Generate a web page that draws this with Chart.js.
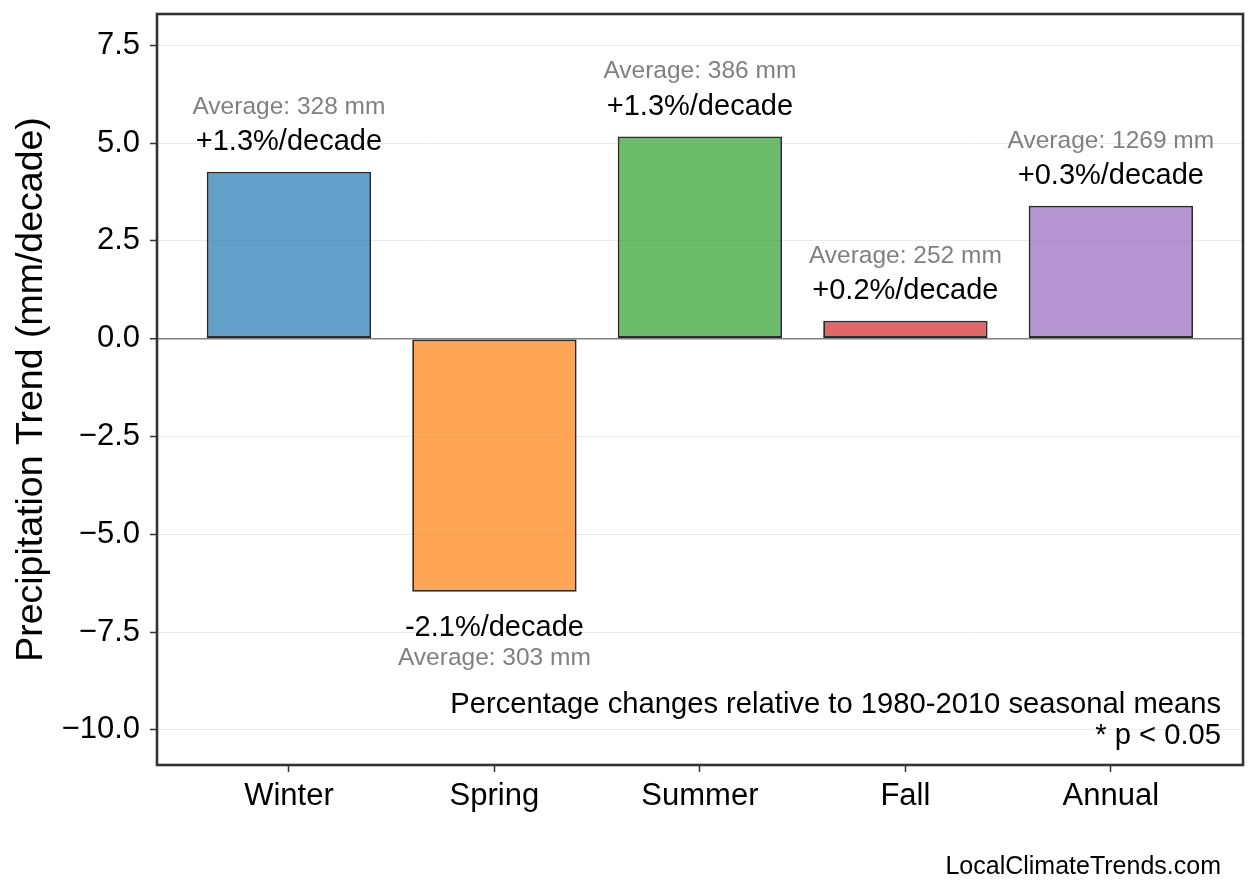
<!DOCTYPE html>
<html>
<head>
<meta charset="utf-8">
<script src="https://cdn.jsdelivr.net/npm/chart.js@4/dist/chart.umd.min.js"></script>
<style>
  body { margin: 0; background: #fff; }
  canvas { display: block; }
</style>
</head>
<body>
<canvas id="chart" width="1258" height="893"></canvas>
<script>
// values
const seasons = ["Winter", "Spring", "Summer", "Fall", "Annual"];
const trends = [4.27, -6.47, 5.17, 0.46, 3.40];
const pctLabels = ["+1.3%/decade", "-2.1%/decade", "+1.3%/decade", "+0.2%/decade", "+0.3%/decade"];
const averages = [328, 303, 386, 252, 1269];
const yTicks = [-10, -7.5, -5, -2.5, 0, 2.5, 5, 7.5];
const barColors = [
    "rgba(31, 119, 180, 0.7)",
    "rgba(255, 127, 14, 0.7)",
    "rgba(44, 160, 44, 0.7)",
    "rgba(214, 39, 40, 0.7)",
    "rgba(148, 103, 189, 0.7)"
];

const FONT = "'Liberation Sans', Arial, Helvetica, sans-serif";

const annotate = {
    id: "annotate",
    afterDatasetsDraw(chart) {
        const ctx = chart.ctx;
        const xs = chart.scales.x, ys = chart.scales.y;
        ctx.save();
        ctx.textAlign = "center";
        ctx.textBaseline = "alphabetic";
        trends.forEach((v, i) => {
            const x = xs.getPixelForValue(i);
            const y = ys.getPixelForValue(v);
            let pctY, avgY;
            if (v >= 0) {
                pctY = y - 21.6;
                avgY = y - 58;
            } else {
                pctY = y + 44.7;
                avgY = y + 73;
            }
            ctx.fillStyle = "#000";
            ctx.font = "29px " + FONT;
            ctx.fillText(pctLabels[i], x, pctY);
            ctx.fillStyle = "#808080";
            ctx.font = "24.5px " + FONT;
            ctx.fillText("Average: " + averages[i] + " mm", x, avgY);
        });
        ctx.restore();
    },
    afterDraw(chart) {
        const ctx = chart.ctx;
        const a = chart.chartArea;
        ctx.save();
        // frame
        ctx.strokeStyle = "#333";
        ctx.lineWidth = 2.6;
        ctx.strokeRect(a.left, a.top, a.right - a.left, a.bottom - a.top);
        // note
        ctx.fillStyle = "#000";
        ctx.textAlign = "right";
        ctx.textBaseline = "alphabetic";
        ctx.font = "29.2px " + FONT;
        ctx.fillText("Percentage changes relative to 1980-2010 seasonal means", a.right - 22, a.bottom - 52);
        ctx.fillText("* p < 0.05", a.right - 22, a.bottom - 21);
        // footer
        ctx.font = "25px " + FONT;
        ctx.fillText("LocalClimateTrends.com", a.right - 22, 874);
        ctx.restore();
    }
};

const chart = new Chart(
    document.getElementById("chart"),
    {
        type: "bar",
        data: {
            datasets: [
                {
                    label: "Precipitation Trend",
                    data: trends.map((v, i) => ({ x: i, y: v })),
                    backgroundColor: barColors,
                    borderColor: "#2b2b2b",
                    borderWidth: 1.8,
                    borderSkipped: false,
                    categoryPercentage: 1,
                    barPercentage: 0.8
                }
            ]
        },
        options: {
            responsive: false,
            animation: false,
            devicePixelRatio: 1,
            layout: {
                padding: { top: 14, right: 15, left: 0, bottom: 0 }
            },
            plugins: {
                legend: { display: false },
                tooltip: { enabled: false }
            },
            scales: {
                x: {
                    type: "linear",
                    min: -0.642,
                    max: 4.643,
                    offset: false,
                    afterBuildTicks: scale => {
                        scale.ticks = seasons.map((s, i) => ({ value: i }));
                    },
                    afterFit: scale => {
                        scale.height = 128;
                        scale.paddingLeft = 0;
                        scale.paddingRight = 0;
                    },
                    border: { display: false },
                    grid: {
                        offset: false,
                        drawOnChartArea: false,
                        drawTicks: true,
                        tickLength: 7,
                        tickColor: "#333",
                        tickWidth: 1.5
                    },
                    ticks: {
                        autoSkip: false,
                        maxRotation: 0,
                        padding: 6,
                        color: "#000",
                        font: { family: FONT, size: 31 },
                        callback: v => seasons[v]
                    }
                },
                y: {
                    min: -10.9,
                    max: 8.3,
                    z: 1,
                    afterBuildTicks: scale => {
                        scale.ticks = yTicks.map(v => ({ value: v }));
                    },
                    afterFit: scale => {
                        scale.width = 157;
                        scale.paddingTop = 0;
                        scale.paddingBottom = 0;
                    },
                    border: { display: false },
                    grid: {
                        color: c => (c.tick && c.tick.value === 0) ? "#808080" : "rgba(215, 215, 215, 0.5)",
                        lineWidth: c => (c.tick && c.tick.value === 0) ? 1.5 : 1,
                        drawTicks: true,
                        tickLength: 7,
                        tickColor: "#333",
                        tickWidth: 1.5
                    },
                    ticks: {
                        padding: 10,
                        color: "#000",
                        font: { family: FONT, size: 31 },
                        callback: v => (v < 0 ? "\u2212" : "") + Math.abs(v).toFixed(1)
                    },
                    title: {
                        display: true,
                        text: "Precipitation Trend (mm/decade)",
                        color: "#000",
                        font: { family: FONT, size: 37.5 },
                        padding: { top: 9, bottom: 0 }
                    }
                }
            }
        },
        plugins: [annotate]
    }
);
</script>
</body>
</html>
